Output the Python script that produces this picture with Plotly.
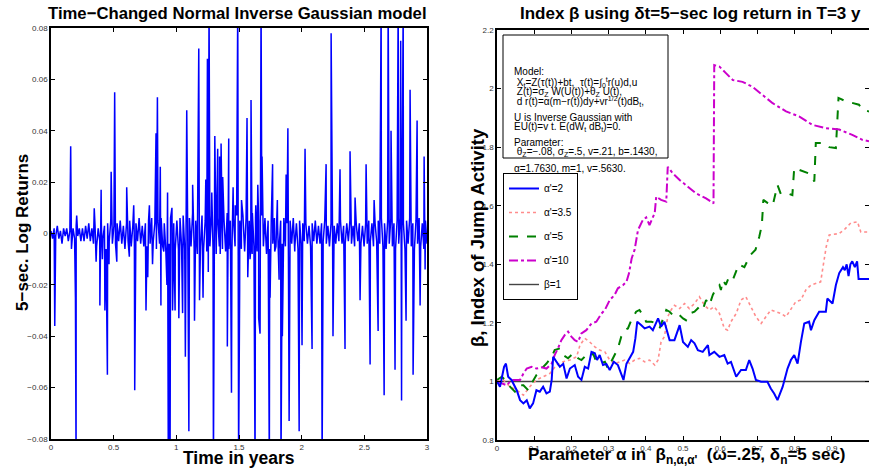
import numpy as np
import plotly.graph_objects as go

# ---------------- Left panel data: 5-sec log returns ----------------
base_returns = [
    .001,-.002,.002,-.001,.003,-.002,.001,-.004,.002,-.001,.002,-.003,.001,-.006,.002,-.002,.003,-.001,.002,-.003,
    .002,-.003,.003,-.002,.004,-.003,.002,-.004,.003,-.005,.002,-.003,.004,-.002,.003,-.006,.004,-.003,.005,-.004,
    .003,-.004,.004,-.003,.005,-.004,.003,-.006,.004,-.003,.005,-.005,.003,-.004,.004,-.003,.006,-.004,.003,-.005,
    .004,-.005,.005,-.004,.006,-.003,.004,-.006,.005,-.004,.006,-.005,.004,-.007,.005,-.004,.006,-.005,.004,-.006,
    .005,-.006,.006,-.005,.007,-.006,.005,-.007,.006,-.005,.008,-.006,.005,-.008,.006,-.005,.007,-.006,.005,-.007,
    .006,-.005,.007,-.006,.005,-.008,.006,-.005,.007,-.006,.005,-.007,.008,-.006,.005,-.007,.006,-.005,.007,-.006,
    .005,-.006,.007,-.005,.006,-.007,.005,-.006,.008,-.005,.006,-.007,.005,-.006,.007,-.005,.006,-.008,.005,-.006,
    .005,-.004,.006,-.005,.004,-.006,.005,-.004,.006,-.005,.004,-.007,.005,-.004,.006,-.005,.004,-.006,.005,-.004,
    .004,-.003,.004,-.004,.003,-.005,.004,-.003,.005,-.004,.003,-.004,.004,-.003,.005,-.004,.003,-.005,.004,-.003,
    .003,-.004,.004,-.003,.005,-.004,.003,-.004,.004,-.003,.005,-.004,.003,-.005,.004,-.003,.004,-.004,.003,-.005,
    .004,-.004,.005,-.003,.004,-.005,.004,-.003,.005,-.004,.006,-.005,.004,-.006,.005,-.004,.006,-.005,.004,-.006,
    .005,-.004,.006,-.005,.004,-.006,.005,-.004,.006,-.005,.004,-.006,.005,-.004,.006,-.005,.004,-.006,.005,-.004,
]
spike_years = [
    0.03, 0.157, 0.195, 0.2, 0.205, 0.345, 0.36, 0.39, 0.40, 0.41, 0.43, 0.45, 0.463, 0.48, 0.508, 0.525,
    0.604, 0.625, 0.66, 0.668, 0.758, 0.772, 0.785, 0.81, 0.838, 0.849, 0.872, 0.877, 0.9, 0.925, 0.93,
    0.936, 0.944, 0.95, 0.965, 0.97, 0.975, 0.99, 1.02, 1.05, 1.072, 1.083, 1.10, 1.13, 1.145, 1.179,
    1.185, 1.213, 1.235, 1.248, 1.255, 1.261, 1.283, 1.296, 1.307, 1.33, 1.345, 1.35, 1.357, 1.37,
    1.407, 1.418, 1.44, 1.453, 1.47, 1.49, 1.497, 1.505, 1.52, 1.545, 1.564, 1.57, 1.588, 1.596, 1.605,
    1.628, 1.634, 1.65, 1.657, 1.668, 1.676, 1.684, 1.742, 1.748, 1.768, 1.785, 1.806, 1.82, 1.835,
    1.846, 1.876, 1.89, 1.90, 1.945, 1.98, 2.003, 2.027, 2.083, 2.163, 2.195, 2.235, 2.25, 2.306,
    2.346, 2.386, 2.426, 2.466, 2.514, 2.546, 2.578, 2.61, 2.634, 2.658, 2.69, 2.713, 2.745, 2.77,
    2.79, 2.797, 2.81, 2.833, 2.865, 2.889, 2.921, 2.945, 2.977, 2.985,
]
spike_returns = [
    -0.036, 0.034, -0.025, -0.09, 0.007, 0.0098, -0.011, -0.028, 0.017, -0.010, -0.030, -0.055, -0.012, 0.024, 0.055, -0.011,
    0.018, -0.009, 0.011, -0.061, -0.030, -0.017, 0.011, -0.012, 0.039, 0.053, 0.026, -0.028, -0.007, -0.020, 0.016,
    -0.09, -0.048, -0.09, 0.010, -0.030, -0.016, -0.030, -0.033, -0.031, -0.048, 0.048, -0.077, 0.019, -0.034, 0.072,
    -0.026, -0.025, 0.021, 0.068, -0.015, 0.09, 0.016, -0.09, 0.038, 0.033, 0.030, -0.008, 0.035, 0.022,
    -0.044, 0.037, -0.062, 0.018, 0.011, 0.09, -0.09, -0.022, 0.013, -0.007, 0.045, -0.017, -0.010, 0.052, -0.008,
    -0.09, 0.011, 0.019, -0.033, -0.039, 0.09, 0.030, -0.09, -0.025, 0.027, -0.007, 0.013, -0.018, -0.09,
    -0.040, 0.023, 0.041, -0.073, -0.007, -0.077, -0.0435, 0.033, -0.045, -0.09, 0.027, 0.078, -0.040, 0.025,
    -0.045, 0.032, 0.014, -0.026, 0.027, -0.051, 0.013, -0.038, 0.09, -0.063, 0.09, 0.040, -0.053, 0.09,
    0.075, -0.065, 0.09, -0.034, 0.056, -0.055, 0.044, -0.028, 0.030, -0.014,
]
left_xticks = [0, 0.5, 1, 1.5, 2, 2.5, 3]
left_xticklabels = ["0", "0.5", "1", "1.5", "2", "2.5", "3"]
left_yticks = [-0.08, -0.06, -0.04, -0.02, 0, 0.02, 0.04, 0.06, 0.08]
left_yticklabels = ["\u22120.08", "\u22120.06", "\u22120.04", "\u22120.02", "0", "0.02", "0.04", "0.06", "0.08"]

# ---------------- Right panel data: index beta vs alpha ----------------
alpha_a2 = [0, .008, .019, .024, .03, .039, .053, .062, .071, .08, .088, .097, .106, .115, .124, .133, .142, .147,
            .151, .16, .169, .178, .187, .196, .209, .218, .227, .236, .245, .254, .263, .269, .276, .285, .294, .303,
            .314, .325, .334, .34, .348, .357, .366, .372, .377, .388, .397, .41, .419, .433, .441, .45, .464, .477,
            .491, .5, .513, .522, .531, .54, .553, .567, .571, .584, .598, .611, .62, .629, .643, .656, .669, .678,
            .687, .696, .71, .727, .736, .745, .754, .761, .768, .781, .79, .799, .808, .817, .826, .839, .844, .853,
            .866, .884, .888, .902, .911, .92, .93, .935, .94, .945, .95, .955, .962, .968, .972, 1.0]
beta_a2 = [1.0, .982, 1.05, 1.061, 1.016, 1.005, .97, .936, .925, .936, .908, .925, .97, .965, .982, .959, .965, 1.005,
           1.084, 1.067, 1.05, 1.06, 1.01, 1.044, 1.056, 1.016, 1.005, 1.05, 1.044, 1.101, 1.096, 1.073, 1.09, 1.056,
           1.06, 1.039, 1.067, 1.056, 1.022, 1.005, 1.06, 1.079, 1.101, 1.147, 1.204, 1.192, 1.181, 1.187, 1.175,
           1.215, 1.187, 1.204, 1.141, 1.141, 1.192, 1.135, 1.118, 1.141, 1.13, 1.107, 1.101, 1.124, 1.09, 1.101,
           1.084, 1.09, 1.061, 1.067, 1.016, 1.039, 1.039, 1.073, 1.044, 1.005, .999, .999, .976, .959, .936, .959,
           .982, 1.044, 1.073, 1.09, 1.061, 1.135, 1.198, 1.204, 1.175, 1.209, 1.238, 1.238, 1.283, 1.266, 1.329,
           1.37, 1.39, 1.38, 1.40, 1.36, 1.40, 1.41, 1.39, 1.41, 1.35, 1.35]

alpha_a35 = [0, .017, .035, .053, .071, .088, .106, .124, .142, .16, .178, .196, .214, .223, .236, .249, .263, .276,
             .29, .303, .316, .33, .343, .357, .37, .383, .397, .41, .424, .433, .441, .45, .459, .468, .477, .491,
             .504, .517, .531, .544, .558, .571, .584, .598, .611, .62, .629, .643, .656, .669, .683, .696, .71, .723,
             .736, .75, .763, .777, .79, .803, .817, .83, .844, .857, .87, .875, .88, .885, .893, .92, .935, .951,
             .969, .978, 1.0]
beta_a35 = [1.0, 1.005, .982, .97, .953, .982, 1.005, 1.016, 1.027, 1.056, 1.067, 1.073, 1.084, 1.124, 1.147, 1.135,
            1.118, 1.107, 1.101, 1.073, 1.061, 1.067, 1.073, 1.061, 1.073, 1.079, 1.067, 1.073, 1.056, 1.073, 1.135,
            1.153, 1.221, 1.244, 1.26, 1.249, 1.266, 1.249, 1.266, 1.289, 1.26, 1.244, 1.255, 1.232, 1.181, 1.175,
            1.204, 1.232, 1.278, 1.289, 1.255, 1.221, 1.198, 1.221, 1.244, 1.238, 1.232, 1.221, 1.249, 1.272, 1.278,
            1.312, 1.329, 1.335, 1.34, 1.38, 1.42, 1.46, 1.50, 1.505, 1.52, 1.541, 1.545, 1.51, 1.51]

alpha_a5 = [0, .013, .026, .035, .048, .057, .071, .084, .093, .106, .12, .133, .147, .155, .169, .178, .191, .2,
            .209, .218, .227, .24, .249, .258, .267, .276, .29, .298, .307, .316, .325, .334, .343, .352, .361, .374,
            .383, .392, .401, .415, .428, .437, .446, .455, .464, .473, .486, .5, .508, .517, .531, .544, .553, .562,
            .571, .58, .589, .598, .602, .607, .615, .625, .635, .65, .665, .68, .695, .705, .712, .716, .727, .741,
            .754, .763, .786, .794, .799, .817, .839, .853, .857, .875, .893, .911, .918, .937, .955, .973, .982, 1.0]
beta_a5 = [1.005, 1.016, 1.0, .982, .965, .987, .987, .97, .993, 1.022, 1.044, 1.061, 1.084, 1.107, 1.113, 1.09,
           1.079, 1.09, 1.096, 1.079, 1.073, 1.09, 1.084, 1.096, 1.067, 1.061, 1.067, 1.044, 1.067, 1.09, 1.113,
           1.153, 1.175, 1.181, 1.209, 1.238, 1.244, 1.226, 1.204, 1.204, 1.198, 1.181, 1.215, 1.244, 1.238, 1.226,
           1.232, 1.215, 1.209, 1.232, 1.238, 1.255, 1.244, 1.278, 1.26, 1.295, 1.318, 1.329, 1.312, 1.346, 1.33,
           1.36, 1.35, 1.40, 1.39, 1.43, 1.45, 1.494, 1.534, 1.62, 1.61, 1.60, 1.671, 1.64, 1.64, 1.636, 1.729, 1.72,
           1.71, 1.683, 1.814, 1.814, 1.80, 1.797, 1.968, 1.957, 1.95, 1.945, 1.928, 1.922]

alpha_a10 = [0, .013, .026, .035, .044, .053, .062, .071, .08, .093, .106, .12, .133, .147, .155, .164, .173, .182,
             .191, .2, .209, .218, .227, .24, .254, .267, .281, .29, .303, .316, .325, .339, .348, .355, .362, .37,
             .375, .379, .392, .401, .41, .424, .428, .441, .455, .459, .473, .491, .513, .535, .562, .582, .584,
             .598, .616, .634, .66, .687, .714, .741, .777, .812, .848, .884, .92, .955, .982, 1.0]
beta_a10 = [1.0, .993, .987, .999, 1.005, 1.005, 1.005, 1.027, 1.044, 1.05, 1.044, 1.048, 1.044, 1.061, 1.09, 1.113,
            1.141, 1.158, 1.17, 1.153, 1.141, 1.135, 1.164, 1.175, 1.198, 1.204, 1.232, 1.244, 1.278, 1.295, 1.318,
            1.329, 1.34, 1.37, 1.42, 1.45, 1.483, 1.517, 1.551, 1.56, 1.534, 1.575, 1.631, 1.62, 1.614, 1.733, 1.71,
            1.688, 1.665, 1.642, 1.625, 1.608, 2.08, 2.075, 2.052, 2.029, 2.023, 2.006, 1.978, 1.95, 1.922, 1.905,
            1.876, 1.865, 1.86, 1.842, 1.825, 1.82]

alpha_ref = [0, 1]
beta_ref = [1, 1]

right_xticks = [0, 0.1, 0.2, 0.3, 0.4, 0.5, 0.6, 0.7, 0.8, 0.9]
right_xticklabels = ["0", "0.1", "0.2", "0.3", "0.4", "0.5", "0.6", "0.7", "0.8", "0.9"]
right_yticks = [0.8, 1.0, 1.2, 1.4, 1.6, 1.8, 2.0, 2.2]
right_yticklabels = ["0.8", "1", "1.2", "1.4", "1.6", "1.8", "2", "2.2"]

# ---------------- Build figure ----------------
W, H = 869, 475
FONT = "Liberation Sans, Arial, Helvetica, sans-serif"

base_t = np.linspace(0, 3, len(base_returns))
t_all = np.concatenate([base_t, np.array(spike_years)])
r_all = np.concatenate([np.array(base_returns), np.array(spike_returns)])
order = np.argsort(t_all, kind="stable")

fig = go.Figure()
fig.add_trace(go.Scatter(x=t_all[order], y=r_all[order], mode="lines",
                         line=dict(color="#0000ff", width=1.5), showlegend=False,
                         xaxis="x", yaxis="y"))

fig.add_trace(go.Scatter(x=alpha_ref, y=beta_ref, mode="lines", name="\u03b2=1",
                         line=dict(color="#444444", width=1.4), xaxis="x2", yaxis="y2",
                         legendgroup="e", legendrank=5))
fig.add_trace(go.Scatter(x=alpha_a35, y=beta_a35, mode="lines", name="\u03b1'=3.5",
                         line=dict(color="#ff8c8c", width=1.6, dash="dot"), xaxis="x2", yaxis="y2",
                         legendgroup="b", legendrank=2))
fig.add_trace(go.Scatter(x=alpha_a5, y=beta_a5, mode="lines", name="\u03b1'=5",
                         line=dict(color="#008000", width=2, dash="dash"), xaxis="x2", yaxis="y2",
                         legendgroup="c", legendrank=3))
fig.add_trace(go.Scatter(x=alpha_a10, y=beta_a10, mode="lines", name="\u03b1'=10",
                         line=dict(color="#cc00cc", width=2, dash="dashdot"), xaxis="x2", yaxis="y2",
                         legendgroup="d", legendrank=4))
fig.add_trace(go.Scatter(x=alpha_a2, y=beta_a2, mode="lines", name="\u03b1'=2",
                         line=dict(color="#0000ff", width=2), xaxis="x2", yaxis="y2",
                         legendgroup="a", legendrank=1))

axis_common = dict(showline=True, linecolor="black", linewidth=1.6, mirror="ticks",
                   ticks="inside", ticklen=4, tickwidth=1, tickcolor="black",
                   showgrid=False, zeroline=False, automargin=False,
                   tickfont=dict(size=8, color="#333333", family=FONT))

def px_x(p):
    return p / W

def px_y(p):
    return 1 - p / H

fig.update_layout(
    width=W, height=H,
    margin=dict(l=0, r=0, t=0, b=0, autoexpand=False),
    paper_bgcolor="white", plot_bgcolor="white",
    font=dict(family=FONT, color="black"),
    xaxis=dict(domain=[px_x(51), px_x(427)], range=[0, 3], anchor="y",
               tickvals=left_xticks, ticktext=left_xticklabels, **axis_common),
    yaxis=dict(domain=[px_y(439), px_y(28)], range=[-0.08, 0.08], anchor="x",
               tickvals=left_yticks, ticktext=left_yticklabels, **axis_common),
    xaxis2=dict(domain=[px_x(497), 1.0], range=[0, 1], anchor="y2",
                tickvals=right_xticks, ticktext=right_xticklabels, **axis_common),
    yaxis2=dict(domain=[px_y(440), px_y(30)], range=[0.8, 2.2], anchor="x2",
                tickvals=right_yticks, ticktext=right_yticklabels, **axis_common),
    showlegend=True,
    legend=dict(x=px_x(503), y=px_y(173), xanchor="left", yanchor="top",
                bgcolor="white", bordercolor="black", borderwidth=1,
                font=dict(size=10, family=FONT), itemwidth=30, tracegroupgap=5,
                traceorder="grouped", entrywidth=48, entrywidthmode="pixels"),
)

# annotation box (model description) on right panel
fig.add_shape(type="rect", xref="paper", yref="paper",
              x0=px_x(503), x1=px_x(668), y0=px_y(158), y1=px_y(35),
              line=dict(color="black", width=1), fillcolor="white", layer="above")

anns = []
def ann(text, x, y, size, xanchor="center", yanchor="middle", angle=0):
    anns.append(dict(text=text, x=px_x(x), y=px_y(y), xref="paper", yref="paper",
                     showarrow=False, xanchor=xanchor, yanchor=yanchor, textangle=angle,
                     font=dict(size=size, family=FONT, color="black")))

# titles
ann("<b>Time\u2212Changed Normal Inverse Gaussian model</b>", 238, 13, 16.7)
ann("<b>Index \u03b2 using \u03b4t=5\u2212sec log return in T=3 y</b>", 690, 13, 17)
ann("<b>Time in years</b>", 239, 458, 17.5)
ann("<b>Parameter \u03b1 in  \u03b2<sub>n,\u03b1,\u03b1'</sub>  (\u03c9=.25, \u03b4<sub>n</sub>=5 sec)</b>", 687, 443, 17, yanchor="top")
ann("<b>5\u2212sec. Log Returns</b>", 22, 233, 17, angle=-90)
ann("<b>\u03b2, Index of Jump Activity</b>", 478, 237, 18.5, angle=-90)

# model text
MS = 10
ann("Model:", 512, 72, MS, xanchor="left")
ann(" X<sub>t</sub>=Z(\u03c4(t))+bt,  \u03c4(t)=\u222b<sub>0</sub><sup>t</sup>r(u)d,u", 512, 82, MS, xanchor="left")
ann(" Z(t)=\u03c3<sub>Z</sub> W(U(t))+\u03b8<sub>Z</sub> U(t),", 512, 92, MS, xanchor="left")
ann(" d r(t)=\u03b1(m\u2212r(t))dy+vr<sup>1/2</sup>(t)dB<sub>t</sub>,", 512, 102, MS, xanchor="left")
ann("U is Inverse Gaussian with", 512, 117, MS, xanchor="left")
ann("EU(t)=v t. E(dW<sub>t</sub> dB<sub>t</sub>)=0.", 512, 127, MS, xanchor="left")
ann("Parameter:", 512, 142, MS, xanchor="left")
ann(" \u03b8<sub>Z</sub>=\u2212.08, \u03c3<sub>Z</sub>=.5, v=.21, b=.1430,", 512, 152, MS, xanchor="left")
ann("\u03b1=1.7630, m=1, v=.5630.", 512, 168, MS, xanchor="left")

fig.update_layout(annotations=anns)

fig.write_html("out.html", config={"displayModeBar": False},
               post_script="document.body.style.margin='0';document.body.style.overflow='hidden';")
